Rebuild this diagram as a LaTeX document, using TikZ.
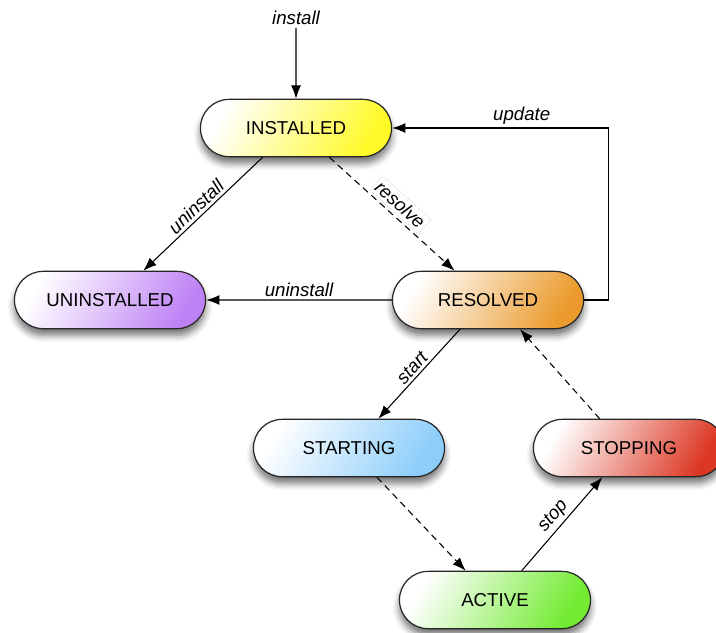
\documentclass[tikz,border=0pt]{standalone}
\usepackage{fontspec}
\setmainfont{Liberation Sans}
\usetikzlibrary{shapes.misc, arrows.meta, shadows.blur}

\definecolor{instY}{RGB}{255,250,40}
\definecolor{uninstP}{RGB}{190,130,245}
\definecolor{resO}{RGB}{235,155,45}
\definecolor{startB}{RGB}{140,205,250}
\definecolor{stopR}{RGB}{220,55,35}
\definecolor{actG}{RGB}{115,235,50}

\begin{document}
\begin{tikzpicture}[x=0.75pt, y=-0.75pt,
        phase/.style={rounded rectangle, draw=black!85, line width=0.9pt,
            minimum width=150pt, minimum height=43pt,
            left color=white, right color=#1, shading angle=60,
            blur shadow={shadow xshift=0pt, shadow yshift=-5pt, shadow blur radius=5pt, shadow opacity=55},
            font=\fontsize{14}{16}\selectfont},
        act/.style={font=\fontsize{14}{16}\selectfont\itshape, inner sep=2pt},
        >={Latex[length=10pt, width=7.5pt]},
        trans/.style={->, line width=0.8pt},
        lazy/.style={trans, dash pattern=on 5pt off 3.5pt}]
        \useasboundingbox (0,0) rectangle (716,632);

        \node[act] (install) at (296,18) {install};
        \node[phase=instY] (installed) at (296,128) {INSTALLED};
        \node[phase=uninstP] (uninstalled) at (110,300) {UNINSTALLED};
        \node[phase=resO] (resolved) at (488,300) {RESOLVED};
        \node[phase=startB] (starting) at (349,448) {STARTING};
        \node[phase=stopR] (stopping) at (629,448) {STOPPING};
        \node[phase=actG] (active) at (495,600) {ACTIVE};

        \draw[trans] (install) -- (installed);
        \draw[trans] ([xshift=-25pt]installed.south) -- node[act, sloped, above] {uninstall} ([xshift=25pt]uninstalled.north);
        \draw[lazy] ([xshift=25pt]installed.south) -- node[act, sloped, above=2pt, fill=white, draw=black!30, densely dotted, line width=0.4pt] {resolve} ([xshift=-25pt]resolved.north);

        \draw[trans] (resolved) -- node[act, above] {uninstall} (uninstalled);
        \draw[trans] (resolved.east) -- ++(24,0) |- node[act, above, pos=0.7] {update} (installed.east);

        \draw[trans] ([xshift=-21pt]resolved.south) -- node[act, sloped, above] {start} ([xshift=22pt]starting.north);
        \draw[lazy] ([xshift=21pt]starting.south) -- ([xshift=-22pt]active.north);
        \draw[trans] ([xshift=20pt]active.north) -- node[act, sloped, above] {stop} ([xshift=-20pt]stopping.south);
        \draw[lazy] ([xshift=-22pt]stopping.north) -- ([xshift=24pt]resolved.south);
    \end{tikzpicture}
\end{document}
